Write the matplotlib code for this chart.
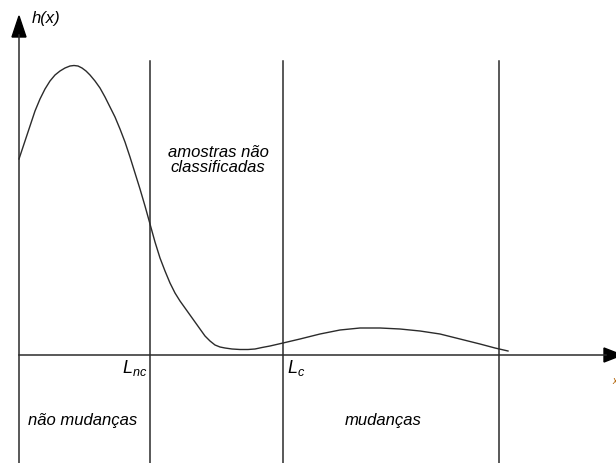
import matplotlib.pyplot as plt
from matplotlib.patches import Polygon

plt.rcParams['font.family'] = ['Liberation Sans', 'DejaVu Sans']
plt.rcParams['mathtext.fontset'] = 'custom'
plt.rcParams['mathtext.it'] = 'Liberation Sans:italic'
plt.rcParams['mathtext.rm'] = 'Liberation Sans'

# curve h(x) in pixel units (y grows downward)
curve_x = [19, 25, 30, 35, 40, 45, 50, 55, 60, 65, 70, 74, 78, 82, 86, 90, 95, 100,
           105, 110, 115, 120, 125, 130, 135, 140, 145, 150, 155, 160, 165, 170,
           175, 180, 185, 190, 195, 200, 205, 210, 215, 220, 225, 232, 240, 248,
           255, 262, 270, 283, 300, 320, 340, 360, 380, 400, 420, 440, 460, 480,
           495, 508]
curve_y = [160, 142, 127, 112, 100, 90, 82, 76, 72, 69, 67, 66.5, 67, 69, 72, 76,
           82, 89, 98, 108, 118, 130, 143, 158, 174, 190, 207, 225, 243, 259, 272,
           284, 294, 302, 309, 316, 323, 330, 337, 342, 346, 348, 349, 350, 350.5,
           350.5, 350, 348.5, 347, 344, 340, 335, 331, 329, 329, 330, 332, 335,
           340, 345, 349, 352]

# threshold lines
lines_x = [150, 283, 499]
line_top = 62
axis_x = 19
axis_y = 356

fig = plt.figure(figsize=(6.16, 4.64), dpi=100)
ax = fig.add_axes([0, 0, 1, 1])
ax.set_xlim(0, 616)
ax.set_ylim(464, 0)
ax.axis('off')

dark = '#2b2b2b'

# axes
ax.plot([axis_x, axis_x], [464, 36], color=dark, lw=1.1)
ax.plot([axis_x, 606], [axis_y, axis_y], color=dark, lw=1.1)
ax.add_patch(Polygon([[axis_x - 7, 38], [axis_x + 7, 38], [axis_x, 17]],
                     closed=True, color='black'))
ax.add_patch(Polygon([[604, axis_y - 7], [604, axis_y + 7], [622, axis_y]],
                     closed=True, color='black'))

for lx in lines_x:
    ax.plot([lx, lx], [line_top, 464], color=dark, lw=1.1)

ax.plot(curve_x, curve_y, color=dark, lw=1.0)

fs = 12
ax.text(32, 19, 'h(x)', style='italic', fontsize=fs, va='center', ha='left')
ax.text(147, 368, r'$L_{nc}$', fontsize=13, ha='right', va='center')
ax.text(287, 368, r'$L_{c}$', fontsize=13, ha='left', va='center')
ax.text(218, 160, 'amostras não\nclassificadas', style='italic', fontsize=fs,
        ha='center', va='center', linespacing=0.95)
ax.text(83, 421, 'não mudanças', style='italic', fontsize=fs, ha='center', va='center')
ax.text(383, 421, 'mudanças', style='italic', fontsize=fs, ha='center', va='center')
ax.text(612, 381, 'x', style='italic', fontsize=7, ha='left', va='center', color='#b06000')

fig.savefig('out.png', dpi=100)
